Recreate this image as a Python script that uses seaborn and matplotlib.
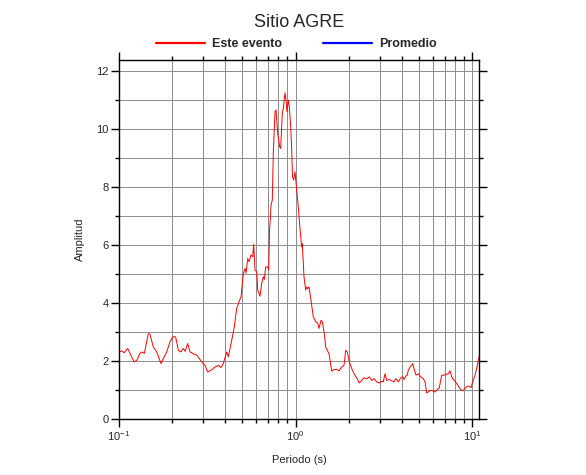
import matplotlib
matplotlib.use("Agg")

import matplotlib.pyplot as plt
import seaborn as sns
import pandas as pd
import numpy as np
from matplotlib.lines import Line2D
from matplotlib.ticker import MultipleLocator

# Spectral ratio (period in s, amplitude)
periodo = [
    0.1000, 0.1036, 0.1067, 0.1120, 0.1154, 0.1216, 0.1260, 0.1315, 0.1345, 0.1391,
    0.1466, 0.1498, 0.1564, 0.1636, 0.1730, 0.1782, 0.1863, 0.1945, 0.1989, 0.2058,
    0.2096, 0.2168, 0.2237, 0.2314, 0.2366, 0.2451, 0.2526, 0.2636, 0.2755, 0.2941,
    0.3071, 0.3181, 0.3351, 0.3499, 0.3652, 0.3783, 0.3899, 0.4075, 0.4161, 0.4350,
    0.4500, 0.4643, 0.4786, 0.4913, 0.5063, 0.5176, 0.5243, 0.5361, 0.5452, 0.5596,
    0.5721, 0.5797, 0.5896, 0.6029, 0.6107, 0.6293, 0.6434, 0.6571, 0.6656, 0.6779,
    0.6958, 0.7049, 0.7123, 0.7217, 0.7264, 0.7388, 0.7485, 0.7654, 0.7753, 0.7927,
    0.8136, 0.8242, 0.8416, 0.8527, 0.8604, 0.8718, 0.8833, 0.8948, 0.9103, 0.9223,
    0.9393, 0.9517, 0.9616, 0.9768, 0.9935, 1.0158, 1.0373, 1.0466, 1.0745, 1.0842,
    1.0928, 1.1173, 1.1424, 1.1575, 1.1726, 1.1927, 1.2242, 1.2614, 1.3016, 1.3361,
    1.3589, 1.3950, 1.4187, 1.4563, 1.4831, 1.5484, 1.6039, 1.6527, 1.7119, 1.7643,
    1.8274, 1.8831, 1.9253, 1.9660, 2.0179, 2.0821, 2.1454, 2.2223, 2.2993, 2.3725,
    2.4447, 2.5323, 2.6195, 2.7029, 2.7858, 2.8856, 2.9849, 3.0799, 3.1450, 3.2154,
    3.2872, 3.4005, 3.5075, 3.6149, 3.7103, 3.8230, 3.9446, 4.0491, 4.1178, 4.2270,
    4.2987, 4.3554, 4.4528, 4.5533, 4.6132, 4.6924, 4.8162, 4.9638, 5.1210, 5.2983,
    5.4168, 5.5379, 5.6552, 5.8345, 5.9884, 6.1717, 6.3597, 6.5277, 6.7355, 6.9416,
    7.1248, 7.3419, 7.5075, 7.6753, 7.8380, 8.0133, 8.1923, 8.3660, 8.6318, 8.8593,
    9.1284, 9.4077, 9.6557, 9.8696, 10.092, 10.400, 10.632, 10.857, 10.957,
]
amplitud = [
    2.31, 2.36, 2.29, 2.44, 2.27, 1.98, 2.03, 2.27, 2.32, 2.27,
    2.95, 2.93, 2.49, 2.32, 1.92, 2.09, 2.32, 2.67, 2.78, 2.86,
    2.82, 2.38, 2.32, 2.44, 2.34, 2.61, 2.32, 2.26, 2.21, 1.98,
    1.86, 1.63, 1.71, 1.80, 1.86, 1.78, 1.92, 2.32, 2.15, 2.72,
    3.18, 3.82, 4.05, 4.22, 5.02, 5.20, 5.04, 5.54, 5.43, 5.66,
    5.60, 6.03, 5.14, 5.08, 4.45, 4.24, 4.68, 4.91, 4.82, 5.25,
    5.25, 5.14, 6.50, 7.00, 7.38, 7.55, 9.16, 10.60, 10.66, 9.85,
    9.39, 9.33, 10.54, 10.71, 10.94, 11.25, 11.00, 10.60, 11.00, 10.77,
    10.08, 9.28, 8.36, 8.24, 8.53, 7.90, 7.32, 6.98, 6.17, 5.94,
    6.05, 4.91, 4.45, 4.56, 4.50, 4.56, 4.10, 3.53, 3.36, 3.32,
    3.13, 3.41, 3.36, 2.95, 2.49, 2.26, 1.66, 1.71, 1.72, 1.67,
    1.80, 1.86, 2.38, 2.32, 1.98, 1.75, 1.57, 1.43, 1.25, 1.34,
    1.43, 1.40, 1.46, 1.34, 1.40, 1.29, 1.25, 1.31, 1.29, 1.57,
    1.34, 1.37, 1.32, 1.29, 1.40, 1.29, 1.42, 1.47, 1.37, 1.50,
    1.52, 1.69, 1.80, 1.86, 1.92, 1.75, 1.52, 1.57, 1.46, 1.40,
    1.29, 0.91, 0.94, 1.00, 0.98, 0.94, 1.02, 1.09, 1.52, 1.52,
    1.55, 1.57, 1.67, 1.46, 1.37, 1.32, 1.23, 1.14, 1.02, 0.98,
    1.06, 1.14, 1.14, 1.09, 1.29, 1.52, 1.75, 2.03, 2.15,
]

series_labels = ["Este evento", "Promedio"]
series_colors = ["#ff0000", "#0000ff"]

sns.set_theme(style="white")
plt.rcParams["font.family"] = ["Liberation Sans", "DejaVu Sans"]
plt.rcParams["mathtext.fontset"] = "custom"
plt.rcParams["mathtext.rm"] = "Liberation Sans"
plt.rcParams["axes.unicode_minus"] = False

df = pd.DataFrame({"Periodo": periodo, "Amplitud": amplitud})

fig = plt.figure(figsize=(5.86, 4.75), dpi=100)
ax = fig.add_axes([0.2031, 0.1173, 0.6148, 0.7564])

sns.lineplot(data=df, x="Periodo", y="Amplitud", color=series_colors[0],
             linewidth=0.7, sort=False, estimator=None, ax=ax)

ax.set_xscale("log")
ax.set_xlim(0.1, 11.0)
ax.set_ylim(0, 12.38)
ax.yaxis.set_major_locator(MultipleLocator(2))
ax.yaxis.set_minor_locator(MultipleLocator(1))

ax.grid(True, which="both", color="0.55", linewidth=0.7)
ax.set_axisbelow(True)

for sp in ax.spines.values():
    sp.set_color("black")
    sp.set_linewidth(1.0)

ax.tick_params(which="both", direction="out", top=True, right=True,
               bottom=True, left=True, color="black", width=1.0,
               labelsize=8, pad=2)
ax.tick_params(which="major", length=5.5)
ax.tick_params(which="minor", length=3)

ax.set_xlabel("Periodo (s)", fontsize=8, labelpad=8)
ax.set_ylabel("Amplitud", fontsize=8, labelpad=8)

fig.suptitle("Sitio AGRE", fontsize=13, y=0.952, va="center", x=0.51)

handles = [Line2D([], [], color=c, linewidth=1.6) for c in series_colors]
fig.legend(handles, series_labels, loc="center", bbox_to_anchor=(0.506, 0.907),
           ncol=2, frameon=False, handlelength=3.9, handletextpad=0.55,
           columnspacing=3.3, prop={"weight": "bold", "size": 9})

fig.savefig("out.png", dpi=100)
plt.close(fig)
